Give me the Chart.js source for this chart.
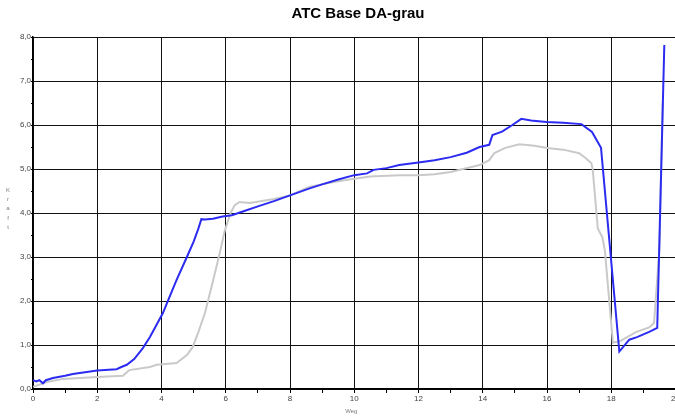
<!DOCTYPE html>
<html>
<head>
<meta charset="utf-8">
<script src="https://cdn.jsdelivr.net/npm/chart.js@4.4.1/dist/chart.umd.min.js"></script>
<style>
    body { margin: 0; overflow: hidden; background: #fff; }
    #wrap { position: relative; width: 681px; height: 420px; }
</style>
</head>
<body>
<div id="wrap"><canvas id="atcChart"></canvas></div>
<script>
// Messkurven: Weg (x) und Kraft (y)
const blauWeg = [0, 0.1, 0.2, 0.31, 0.4, 0.62, 1.0, 1.24, 2.0, 2.6, 2.75, 2.92, 3.15, 3.42, 3.64, 4.04, 4.17, 4.47, 4.79, 5.0, 5.15, 5.24, 5.35, 5.6, 5.9, 6.19, 6.6, 7.0, 7.5, 8.0, 8.61, 9.0, 9.5, 10.0, 10.4, 10.6, 11.0, 11.4, 12.0, 12.5, 13.0, 13.5, 13.9, 14.2, 14.3, 14.6, 14.92, 15.2, 15.5, 15.98, 16.5, 17.07, 17.4, 17.68, 18.25, 18.56, 18.8, 19.18, 19.43, 19.65];
const blauKraft = [0.2, 0.17, 0.2, 0.13, 0.2, 0.25, 0.3, 0.34, 0.42, 0.45, 0.5, 0.55, 0.68, 0.93, 1.18, 1.72, 1.95, 2.48, 3.0, 3.35, 3.65, 3.86, 3.85, 3.87, 3.92, 3.95, 4.05, 4.15, 4.27, 4.4, 4.56, 4.65, 4.76, 4.86, 4.9, 4.98, 5.02, 5.09, 5.15, 5.2, 5.27, 5.37, 5.5, 5.55, 5.77, 5.85, 6.0, 6.14, 6.1, 6.07, 6.05, 6.02, 5.84, 5.48, 0.85, 1.12, 1.18, 1.3, 1.39, 7.82];

const grauWeg = [0, 0.2, 0.43, 0.93, 2.0, 2.8, 2.92, 3.0, 3.64, 3.85, 4.47, 4.79, 4.97, 5.15, 5.35, 5.6, 5.8, 5.97, 6.15, 6.28, 6.43, 6.75, 7.5, 8.0, 8.61, 9.5, 10.0, 10.5, 11.4, 12.0, 12.5, 13.0, 13.9, 14.2, 14.36, 14.7, 15.14, 15.6, 16.07, 16.5, 17.0, 17.2, 17.38, 17.42, 17.58, 17.72, 17.8, 18.05, 18.3, 18.78, 19.18, 19.33, 19.5, 19.6];
const grauKraft = [0.05, 0.1, 0.16, 0.23, 0.27, 0.3, 0.38, 0.43, 0.5, 0.55, 0.59, 0.77, 0.95, 1.3, 1.72, 2.45, 3.05, 3.6, 4.0, 4.18, 4.25, 4.23, 4.32, 4.4, 4.6, 4.72, 4.78, 4.83, 4.86, 4.86, 4.88, 4.93, 5.09, 5.2, 5.36, 5.48, 5.56, 5.53, 5.47, 5.44, 5.36, 5.25, 5.13, 5.0, 3.65, 3.45, 3.15, 1.05, 1.1, 1.3, 1.4, 1.5, 3.2, 6.5];

const diagrammTitel = 'ATC Base DA-grau';
const achsenTitel = { x: 'Weg', y: 'Kraft' };

function toPoints(xs, ys) {
    return xs.map((x, i) => ({ x: x, y: ys[i] }));
}

// Titel und Achsentitel wie im Original: "Weg" unten, "Kraft" senkrecht gestapelt
const titles = {
    id: 'titles',
    afterDraw(chart) {
        const ctx = chart.ctx;
        const area = chart.chartArea;
        ctx.save();
        ctx.textAlign = 'center';
        ctx.textBaseline = 'middle';

        ctx.fillStyle = '#000';
        ctx.font = 'bold 15px "Liberation Sans", Arial';
        ctx.fillText(diagrammTitel, 358, 14);

        ctx.fillStyle = '#7a7a7a';
        ctx.font = '6px "Liberation Sans", Arial';
        ctx.fillText(achsenTitel.x, (area.left + area.right) / 2 - 3, 411);
        achsenTitel.y.split('').forEach((ch, i) => {
            ctx.fillText(ch, 8, 190 + i * 9.3);
        });
        ctx.restore();
    }
};

document.addEventListener('DOMContentLoaded', function () {
    const tickFont = { family: '"Liberation Sans", Arial', size: 8 };

    new Chart(document.getElementById('atcChart'), {
        type: 'scatter',
        data: {
            datasets: [{
                data: toPoints(blauWeg, blauKraft),
                showLine: true,
                borderColor: '#2b2bf2',
                borderWidth: 2,
                pointRadius: 0,
                tension: 0
            }, {
                data: toPoints(grauWeg, grauKraft),
                showLine: true,
                borderColor: '#c9c9c9',
                borderWidth: 2,
                pointRadius: 0,
                tension: 0
            }]
        },
        options: {
            responsive: true,
            maintainAspectRatio: false,
            animation: false,
            layout: { padding: { left: 0, right: 0, top: 37, bottom: 0 } },
            plugins: {
                legend: { display: false },
                tooltip: { enabled: false },
                title: { display: false }
            },
            scales: {
                x: {
                    type: 'linear',
                    min: 0,
                    max: 20,
                    afterFit: scale => { scale.height = 31; },
                    border: { display: true, color: '#000', width: 1.5 },
                    grid: {
                        color: c => c.tick && c.tick.value % 2 === 0 ? '#111' : 'rgba(0,0,0,0)',
                        tickColor: '#000',
                        tickLength: 4,
                        lineWidth: 1
                    },
                    ticks: {
                        stepSize: 1,
                        autoSkip: false,
                        maxRotation: 0,
                        padding: 1,
                        color: '#444',
                        font: tickFont,
                        callback: value => value % 2 === 0 ? String(value) : ''
                    }
                },
                y: {
                    type: 'linear',
                    min: 0,
                    max: 8,
                    afterFit: scale => { scale.width = 33; },
                    border: { display: true, color: '#000', width: 1.5 },
                    grid: {
                        color: c => c.tick && Number.isInteger(c.tick.value) ? '#111' : 'rgba(0,0,0,0)',
                        tickColor: '#000',
                        tickLength: 2,
                        lineWidth: 1
                    },
                    ticks: {
                        stepSize: 0.5,
                        autoSkip: false,
                        padding: 0,
                        color: '#444',
                        font: tickFont,
                        callback: value => Number.isInteger(value) ? value.toFixed(1).replace('.', ',') : ''
                    }
                }
            }
        },
        plugins: [titles]
    });
});
</script>
</body>
</html>
